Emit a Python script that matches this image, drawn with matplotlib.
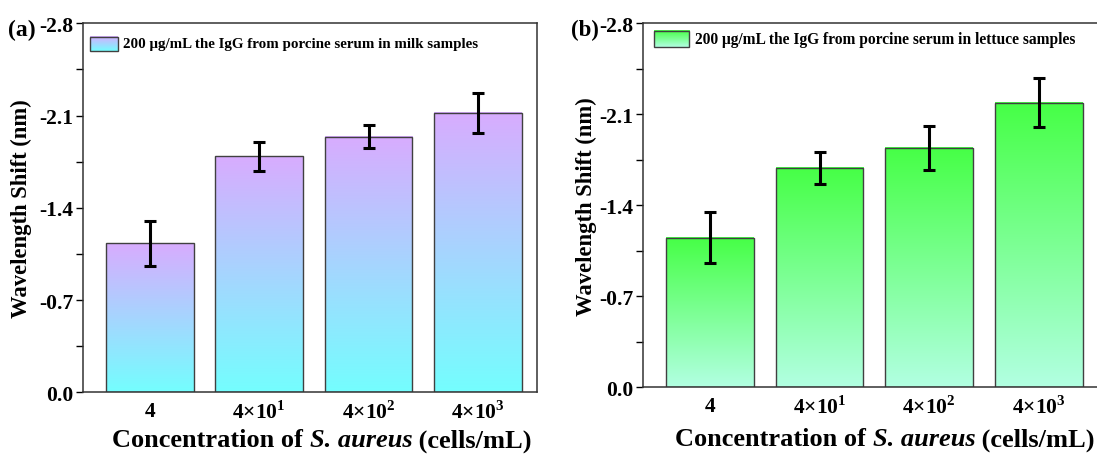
import numpy as np
import matplotlib.pyplot as plt
import matplotlib.colors as mcolors
from matplotlib.patches import Rectangle

plt.rcParams['font.family'] = ['Liberation Serif', 'DejaVu Serif']
plt.rcParams['font.weight'] = 'bold'
plt.rcParams['mathtext.fontset'] = 'custom'
plt.rcParams['mathtext.rm'] = 'Liberation Serif:weight=bold'
plt.rcParams['mathtext.bf'] = 'Liberation Serif:weight=bold'

# 数据
categories = ['4', '4×10$^{1}$', '4×10$^{2}$', '4×10$^{3}$']
milk_shift = [-1.13, -1.79, -1.94, -2.12]
milk_err = [0.17, 0.11, 0.086, 0.153]
lettuce_shift = [-1.15, -1.69, -1.84, -2.19]
lettuce_err = [0.195, 0.123, 0.172, 0.19]
yticks = [0.0, -0.7, -1.4, -2.1, -2.8]

milk_label = '200 μg/mL the IgG from porcine serum in milk samples'
lettuce_label = '200 μg/mL the IgG from porcine serum in lettuce samples'
xlabel_parts = [('Concentration of ', 'normal'), ('S. aureus', 'italic'),
                (' (cells/mL)', 'normal')]

purple = '#d8acff'
cyan = '#74fefe'
green = '#46ff46'
mint = '#b2ffe2'


def gradient(top, bottom, n=256):
    # 从底部到顶部的渐变
    c0 = np.array(mcolors.to_rgb(bottom))
    c1 = np.array(mcolors.to_rgb(top))
    t = np.linspace(0, 1, n)[:, None]
    return (c0 + (c1 - c0) * t)[:, None, :]


def draw_panel(ax, values, errs, top, bottom, label, leg_box, leg_text, leg_size):
    x = np.arange(len(values))
    width = 0.8
    grad = gradient(top, bottom)
    for xi, v in zip(x, values):
        ax.imshow(grad, extent=(xi - width / 2, xi + width / 2, 0, v),
                  origin='lower', aspect='auto', zorder=1)
    ax.bar(x, values, width=width, facecolor='none', edgecolor='#404040',
           linewidth=1.0, zorder=2)
    ax.errorbar(x, values, yerr=errs, fmt='none', ecolor='black',
                elinewidth=2.2, capsize=4, capthick=2.2, zorder=3)
    ax.set_xlim(-0.61, 3.54)
    ax.set_ylim(0, -2.8)
    ax.set_yticks(yticks)
    ax.set_yticks([-0.35, -1.05, -1.75, -2.45], minor=True)
    ax.set_yticklabels(['%.1f' % t for t in yticks])
    ax.set_xticks(x)
    ax.set_xticklabels(categories)
    ax.tick_params(axis='x', length=0, pad=6, labelsize=15.5)
    ax.tick_params(axis='y', which='major', length=5, width=1, pad=2,
                   labelsize=15.5)
    ax.tick_params(axis='y', which='minor', length=5, width=1)
    for s in ax.spines.values():
        s.set_linewidth(1.1)
        s.set_color('#333333')
    ax.set_ylabel('Wavelength Shift (nm)', fontsize=16.3, fontweight='bold')
    # 图例（手动绘制渐变色块）
    x0, y0, x1, y1 = leg_box
    ax.imshow(gradient(top, bottom), extent=(x0, x1, y0, y1), origin='lower',
              aspect='auto', transform=ax.transAxes, zorder=4)
    ax.add_patch(Rectangle((x0, y0), x1 - x0, y1 - y0, transform=ax.transAxes,
                           facecolor='none', edgecolor='#404040', lw=1.0,
                           zorder=5))
    ax.text(leg_text[0], leg_text[1], label, transform=ax.transAxes,
            fontsize=leg_size, fontweight='bold', va='center', ha='left')


def x_label(fig, cx, cy, size=19):
    # 分段写横坐标标题，S. aureus 用斜体
    r = fig.canvas.get_renderer()
    texts = [fig.text(0, cy, s, fontsize=size, fontweight='bold', fontstyle=st,
                      va='center', ha='left') for s, st in xlabel_parts]
    widths = [t.get_window_extent(r).width / fig.bbox.width for t in texts]
    left = cx - sum(widths) / 2
    for t, w in zip(texts, widths):
        t.set_x(left)
        left += w


fig = plt.figure(figsize=(10.97, 4.56), dpi=100)
ax1 = fig.add_axes([0.0757, 0.1375, 0.4138, 0.8092])
ax2 = fig.add_axes([0.5861, 0.1485, 0.4149, 0.7982])

draw_panel(ax1, milk_shift, milk_err, purple, cyan, milk_label,
           (0.0154, 0.925, 0.077, 0.963), (0.088, 0.944), 10.8)
draw_panel(ax2, lettuce_shift, lettuce_err, green, mint, lettuce_label,
           (0.024, 0.935, 0.101, 0.979), (0.114, 0.957), 11.2)

ax1.yaxis.set_label_coords(-0.112, 0.5)
ax2.yaxis.set_label_coords(-0.101, 0.5)

x_label(fig, 322 / 1097, 1 - 441 / 456)
x_label(fig, 885 / 1097, 1 - 440 / 456)

fig.text(8 / 1097, 0.934, '(a)', fontsize=17, fontweight='bold', va='center')
fig.text(571 / 1097, 0.934, '(b)', fontsize=16.5, fontweight='bold', va='center')

fig.savefig('out.png', dpi=100)
